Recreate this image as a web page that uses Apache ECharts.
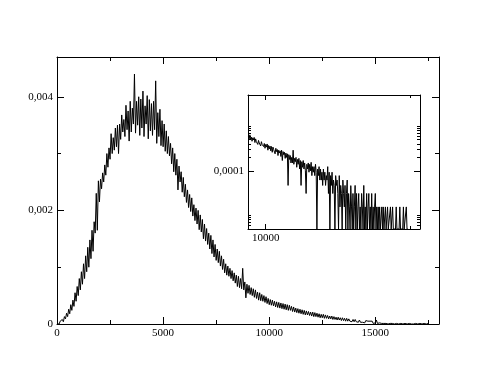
<!DOCTYPE html>
<html>
<head>
<meta charset="utf-8">
<script src="https://cdn.jsdelivr.net/npm/echarts@6/dist/echarts.min.js"></script>
<style>
  html, body { margin: 0; padding: 0; background: #fff; }
  #chart { width: 494px; height: 382px; }
</style>
</head>
<body>
<div id="chart"></div>
<script>
// main histogram: bins of 50, starting at 0
var mainBinWidth = 50;
var density = [
  0, 0.00002, 0, 0.00005, 0.00002, 0.00008, 0.00004, 0.00013, 0.00009, 0.00019,
  0.00013, 0.00026, 0.00018, 0.00034, 0.00024, 0.00042, 0.00031, 0.00055, 0.0004, 0.00066,
  0.0005, 0.0008, 0.0006, 0.00092, 0.0007, 0.00106, 0.0008, 0.0012, 0.00092, 0.00135,
  0.001, 0.00148, 0.00115, 0.00165, 0.00128, 0.0018, 0.0016, 0.0023, 0.00165, 0.00252,
  0.00215, 0.00255, 0.00238, 0.00266, 0.0025, 0.0028, 0.00262, 0.003, 0.00276, 0.0031,
  0.0029, 0.00335, 0.003, 0.00328, 0.00306, 0.00345, 0.00312, 0.0035, 0.003, 0.00352,
  0.00325, 0.00368, 0.00338, 0.0036, 0.0033, 0.00385, 0.00342, 0.00375, 0.00322, 0.00392,
  0.00338, 0.0038, 0.00352, 0.0044, 0.00336, 0.00392, 0.0035, 0.004, 0.00332, 0.00396,
  0.00345, 0.0041, 0.0033, 0.00384, 0.00352, 0.00402, 0.00326, 0.00395, 0.0034, 0.00388,
  0.00332, 0.00392, 0.00342, 0.00428, 0.00318, 0.00372, 0.0033, 0.00378, 0.00314, 0.00358,
  0.00312, 0.00352, 0.00304, 0.0034, 0.003, 0.0033, 0.00296, 0.00318, 0.00282, 0.0031,
  0.00268, 0.003, 0.00262, 0.0029, 0.00236, 0.00278, 0.0025, 0.00268, 0.00232, 0.00258,
  0.00224, 0.00246, 0.00214, 0.00236, 0.00205, 0.00228, 0.00198, 0.00222, 0.0019, 0.0021,
  0.00182, 0.00204, 0.00176, 0.002, 0.00166, 0.00192, 0.00162, 0.00184, 0.0015, 0.00176,
  0.00146, 0.00168, 0.0014, 0.0016, 0.00132, 0.00156, 0.00124, 0.00148, 0.00118, 0.0014,
  0.00112, 0.00132, 0.00108, 0.00128, 0.00102, 0.0012, 0.00096, 0.00114, 0.0009, 0.00106,
  0.00086, 0.00102, 0.00084, 0.00098, 0.0008, 0.00094, 0.00076, 0.0009, 0.00072, 0.00086,
  0.00066, 0.00084, 0.00064, 0.0008, 0.00062, 0.00098, 0.0006, 0.00074, 0.00046, 0.0007,
  0.00054, 0.00068, 0.00052, 0.00064, 0.0005, 0.00062, 0.00047, 0.0006, 0.00045, 0.00056,
  0.00042, 0.00055, 0.00041, 0.00052, 0.0004, 0.0005, 0.00038, 0.00048, 0.00036, 0.00045,
  0.00034, 0.00043, 0.00033, 0.00042, 0.00032, 0.0004, 0.0003, 0.00039, 0.00029, 0.00038,
  0.00028, 0.00037, 0.00027, 0.00036, 0.00026, 0.00035, 0.00025, 0.00034, 0.00024, 0.00033,
  0.00024, 0.00031, 0.00022, 0.0003, 0.00021, 0.00028, 0.0002, 0.00027, 0.00019, 0.00026,
  0.00018, 0.00025, 0.00017, 0.00024, 0.00016, 0.00023, 0.00016, 0.00022, 0.00015, 0.00021,
  0.00014, 0.00021, 0.00013, 0.0002, 0.00013, 0.00019, 0.00012, 0.00018, 0.00011, 0.00017,
  0.00011, 0.00017, 0.0001, 0.00016, 0.0001, 0.00015, 0.00009, 0.00014, 0.00009, 0.00014,
  0.00008, 0.00013, 0.00008, 0.00012, 0.00007, 0.00012, 0.00007, 0.00011, 0.00006, 0.00011,
  0.00006, 0.0001, 0.00005, 0.0001, 0.00005, 0.00009, 0.00005, 0.00008, 0.00004, 0.00008,
  0.00004, 0.00008, 0.00004, 0.00007, 0.00003, 0.00007, 0.00003, 0.00006, 0.00003, 0.00006,
  0.00002, 0.00006, 0.00003, 0.00005, 0.00002, 0.00005, 0.00002, 0.00005, 0.00001, 0.00004,
  0.00002, 0.00007, 0.00001, 0.00004, 0.00002, 0.00004, 0.00001, 0.00003, 0.00001, 0.00004,
  0.00001, 0.00003, 0, 0.00003, 0.00001, 0.00003, 0.00001, 0.00002, 0, 0.00003,
  0.00001, 0.00003, 0, 0.00002, 0.00001, 0.00003, 0, 0.00002, 0.00001, 0.00003,
  0, 0.00002, 0.00001, 0.00002, 0, 0.00003, 0, 0.00002, 0.00001, 0.00002,
  0, 0.00003, 0.00001, 0.00002, 0, 0.00002, 0.00001, 0.00003, 0, 0.00002,
  0.00001
];

// inset tail (log y): bins of 50 from 8800
var insetStart = 8800;
var insetBinWidth = 50;
var insetDensity = [
  0.00059, 0.00052, 0.00064, 0.0005, 0.00057, 0.00046, 0.00055, 0.00049, 0.00056, 0.00043,
  0.00052, 0.00045, 0.00049, 0.00039, 0.00048, 0.00042, 0.00046, 0.00036, 0.00045, 0.00039,
  0.00043, 0.00035, 0.00041, 0.00032, 0.00039, 0.00034, 0.0004, 0.00029, 0.00037, 0.00031,
  0.00036, 0.00028, 0.00035, 0.00026, 0.00034, 0.0003, 0.00033, 0.00024, 0.00032, 0.00027,
  0.0003, 0.00022, 0.00029, 0.00025, 0.00028, 0.00021, 0.00029, 0.00017, 0.00027, 0.00023,
  0.00026, 0.00019, 0.00025, 0.0002, 0.00024, 0.000047, 0.00023, 0.00018, 0.00022, 0.00015,
  0.0002, 0.00015, 0.00029, 0.00014, 0.00019, 0.00016, 0.0002, 0.00012, 0.00018, 0.00014,
  0.00019, 0.00011, 0.00017, 0.000047, 0.00016, 0.00012, 0.00017, 0.00011, 0.00015, 0.0001,
  0.000031, 0.00014, 0.00011, 0.00015, 0.000093, 0.00014, 0.0001, 0.000155, 0.000078, 0.000124,
  0.000093, 0.000124, 0.000078, 0.00014, 0.000093, 0, 0.000109, 0.000078, 0.000124, 0.000062,
  0.000109, 0.000062, 0.000093, 0.000047, 0.000109, 0.000062, 0.000093, 0.000047, 0.000078, 0.000062,
  0.000124, 0.000031, 0.000093, 0, 0.000078, 0.000047, 0.000093, 0.000031, 0.000062, 0.000047,
  0, 0.000078, 0.000047, 0.000062, 0.000031, 0, 0.000078, 0.0000155, 0.000047, 0.000031,
  0, 0.000062, 0.000031, 0.0000155, 0.000047, 0, 0.000031, 0.000062, 0, 0.000031,
  0.0000155, 0, 0.0000465, 0.0000155, 0, 0.000031, 0, 0.0000155, 0.000047, 0,
  0.000031, 0, 0.0000155, 0.000031, 0, 0.0000155, 0, 0.000031, 0.0000155, 0,
  0.000047, 0, 0.0000155, 0, 0.000031, 0, 0.0000155, 0.000031, 0, 0.0000155,
  0, 0.000031, 0, 0.0000155, 0, 0.0000155, 0.000031, 0, 0.0000155, 0,
  0.0000155, 0, 0.0000155, 0, 0, 0.0000155, 0, 0.0000155, 0, 0,
  0.0000155, 0, 0, 0.0000155, 0, 0, 0, 0.0000155, 0, 0,
  0.0000155, 0, 0, 0, 0, 0.0000155, 0, 0, 0, 0,
  0.0000155, 0, 0, 0, 0, 0.0000155, 0, 0, 0, 0.0000155,
  0, 0
];

// tick values
var mainXTicks = [0, 5000, 10000, 15000];
var mainXMinorTicks = [2500, 7500, 12500, 17500];
var mainYTicks = [0, 0.002, 0.004];
var mainYMinorTicks = [0.001, 0.003];
var insetXTicks = [10000];
var insetXMinorTicks = [20000];
var insetYTicks = [0.0001];
var insetYMinorTicks = [0.000005, 0.000006, 0.000007, 0.000008, 0.000009, 0.00001,
  0.0002, 0.0003, 0.0004, 0.0005, 0.0006, 0.0007, 0.0008, 0.0009, 0.001];

var insetYMin = -5.305;
var insetYMax = -2.3;

function toLog(v) {
  return v > 0 ? Math.log10(v) : insetYMin;
}

function commaNum(v) {
  return String(Number(Number(v).toPrecision(6))).replace('.', ',');
}

var labelFont = {fontFamily: 'Liberation Serif', fontSize: 11, color: '#000', margin: 4};

// four axes per direction: major+labels, minor, mirrored major, mirrored minor
function axisSet(grid, pos, mirror, min, max, majors, minors, majorLen, minorLen, fmt) {
  function one(position, ticks, len, withLine, withLabels) {
    return {
      type: 'value',
      gridIndex: grid,
      position: position,
      min: min,
      max: max,
      axisLine: {show: withLine, onZero: false, lineStyle: {color: '#000', width: 1}},
      axisTick: {show: true, inside: true, length: len, customValues: ticks,
        lineStyle: {color: '#000', width: 1}},
      axisLabel: withLabels ? Object.assign({show: true, customValues: majors, formatter: fmt}, labelFont)
        : {show: false},
      splitLine: {show: false}
    };
  }
  return [
    one(pos, majors, majorLen, true, true),
    one(pos, minors, minorLen, false, false),
    one(mirror, majors, majorLen, true, false),
    one(mirror, minors, minorLen, false, false)
  ];
}

var mainData = density.map(function (d, i) { return [i * mainBinWidth, d]; });
var insetData = insetDensity.map(function (d, i) {
  return [insetStart + i * insetBinWidth, toLog(d)];
});

var xAxes = axisSet(0, 'bottom', 'top', 0, 18000, mainXTicks, mainXMinorTicks, 7, 4,
  function (v) { return String(v); })
  .concat(axisSet(1, 'bottom', 'top', 8770, 20700, insetXTicks, insetXMinorTicks, 5, 3,
    function (v) { return String(v); }));

var yAxes = axisSet(0, 'left', 'right', 0, 0.0047, mainYTicks, mainYMinorTicks, 7, 4,
  function (v) { return v === 0 ? '0' : commaNum(v); })
  .concat(axisSet(1, 'left', 'right', insetYMin, insetYMax,
    insetYTicks.map(toLog), insetYMinorTicks.map(toLog), 6, 3,
    function (v) { return commaNum(Math.pow(10, v)); }));

var chart = echarts.init(document.getElementById('chart'), null, {renderer: 'canvas'});
chart.setOption({
  animation: false,
  backgroundColor: '#fff',
  grid: [
    {left: 57, top: 57, right: 55, bottom: 58},
    {left: 248, top: 95, right: 74, bottom: 153, show: true, backgroundColor: '#fff', borderWidth: 0}
  ],
  xAxis: xAxes,
  yAxis: yAxes,
  series: [
    {
      type: 'line',
      xAxisIndex: 0,
      yAxisIndex: 0,
      data: mainData,
      showSymbol: false,
      symbol: 'none',
      lineStyle: {color: '#000', width: 1}
    },
    {
      type: 'line',
      xAxisIndex: 4,
      yAxisIndex: 4,
      data: insetData,
      showSymbol: false,
      symbol: 'none',
      clip: true,
      lineStyle: {color: '#000', width: 1}
    }
  ]
});
</script>
</body>
</html>
